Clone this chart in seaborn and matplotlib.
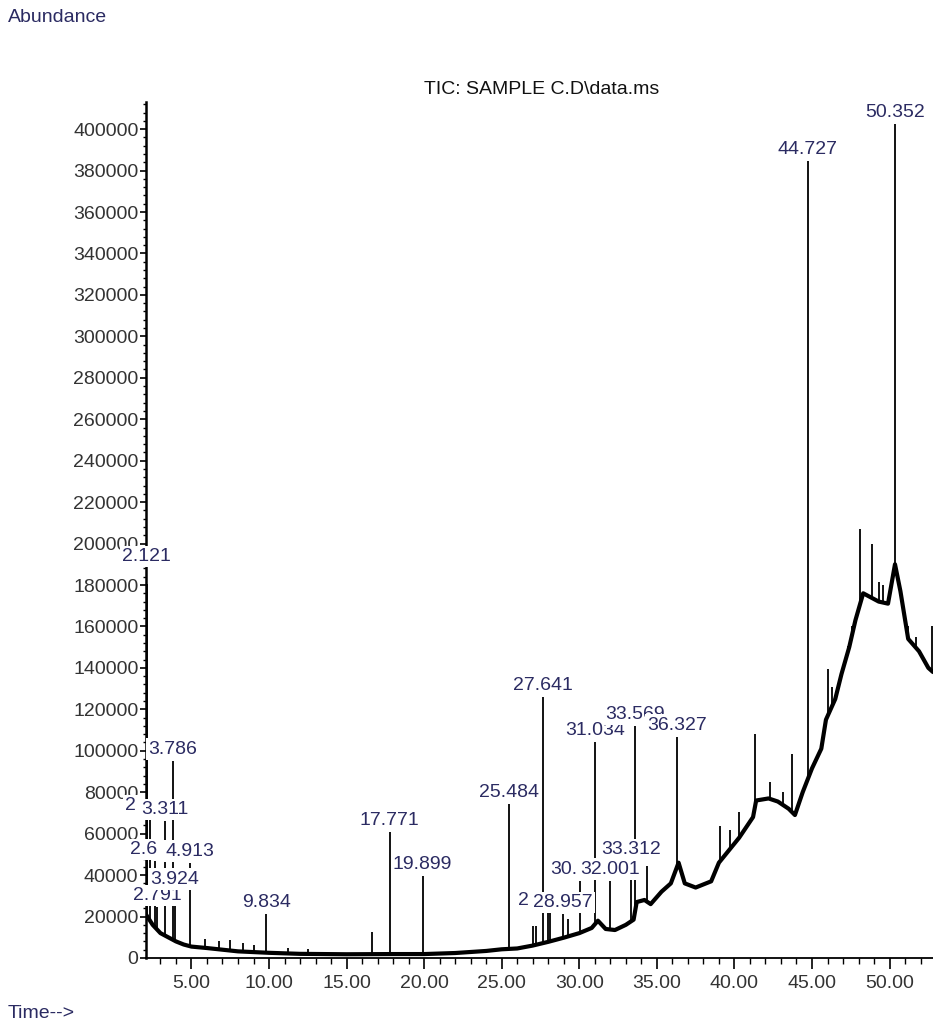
import numpy as np
import pandas as pd
import matplotlib
matplotlib.use("Agg")
import matplotlib.pyplot as plt
from matplotlib.ticker import MultipleLocator, FormatStrFormatter
import seaborn as sns

# Baseline of the total ion current: retention time (min) and abundance
base_time = [2.07, 2.5, 3.0, 3.5, 4.0, 4.5, 5.0, 6.0, 7.0, 8.0, 10.0, 12.0, 15.0,
             18.0, 20.0, 22.0, 23.0, 24.0, 25.0, 26.0, 27.0, 28.0, 29.0, 30.0,
             30.8, 31.2, 31.7, 32.3, 33.0, 33.5, 33.7, 34.2, 34.6, 35.3, 35.9,
             36.4, 36.8, 37.5, 38.5, 39.0, 40.3, 41.2, 41.4, 42.2, 42.8, 43.5,
             43.9, 44.4, 45.0, 45.6, 45.9, 46.5, 46.9, 47.4, 47.8, 48.3, 48.8,
             49.3, 49.9, 50.35, 50.7, 51.2, 51.9, 52.5, 52.8]
base_abund = [21000, 16000, 12000, 10000, 8000, 6500, 5500, 4800, 4000, 3200, 2500,
              2000, 1800, 1900, 1900, 2400, 2900, 3400, 4200, 4600, 6000, 7800,
              9800, 12000, 14500, 18000, 14000, 13500, 16000, 18500, 27000, 28000,
              26000, 32000, 36000, 46000, 36000, 34000, 37000, 46000, 58000, 68000,
              76000, 77000, 75500, 72000, 69000, 80000, 91500, 101000, 115000,
              125000, 137000, 150000, 163000, 176000, 174000, 172000, 171000,
              190000, 177000, 154000, 148000, 140000, 138000]

# Integrated peaks: retention time, apex abundance and the label printed above
peak_rt = [2.121, 2.30, 2.62, 2.791, 3.311, 3.786, 3.924, 4.913, 9.834, 17.771,
           19.899, 25.484, 27.641, 27.98, 28.957, 30.05, 31.034, 32.001, 33.312,
           33.569, 36.327, 44.727, 50.352]
peak_abund = [180400, 67900, 46700, 24500, 66000, 95000, 32300, 45800, 21100,
              60700, 39500, 74300, 125900, 22100, 21100, 37100, 104200, 37100,
              46700, 111900, 106600, 384500, 402400]
peak_label = ["2.121", "2", "2.6", "2.791", "3.311", "3.786", "3.924", "4.913",
              "9.834", "17.771", "19.899", "25.484", "27.641", "2", "28.957",
              "30.", "31.034", "32.001", "33.312", "33.569", "36.327", "44.727",
              "50.352"]

# Smaller unlabelled spikes riding on the baseline
spike_rt = [5.9, 6.8, 7.5, 8.3, 9.0, 11.2, 12.5, 16.66, 27.0, 27.2, 28.1, 29.3,
            34.35, 39.06, 39.7, 40.3, 41.31, 42.3, 43.1, 43.7, 46.0, 46.3, 47.0,
            47.3, 47.6, 48.07, 48.85, 49.35, 49.55, 51.2, 51.7, 52.75]
spike_abund = [9000, 8000, 8500, 7000, 6500, 5000, 4500, 12500, 15300, 15300,
               22100, 18700, 44400, 63700, 62000, 70400, 108000, 84800, 80000,
               98500, 139400, 131000, 141000, 150500, 160000, 206900, 199600,
               181300, 180000, 160000, 155000, 160000]

y_ticks = list(range(0, 400001, 20000))
x_ticks = [5, 10, 15, 20, 25, 30, 35, 40, 45, 50]

sns.set_theme(style="ticks")
plt.rcParams["font.family"] = ["Liberation Sans", "DejaVu Sans"]

NAVY = "#2b2b62"
TICK_GREY = "#333333"
FS = 14

fig = plt.figure(figsize=(9.33, 10.28), dpi=100)
ax = fig.add_axes([0.1565, 0.0681, 0.8435, 0.8325])

trace = pd.DataFrame({"time": base_time, "abundance": base_abund})
sns.lineplot(data=trace, x="time", y="abundance", ax=ax, color="black",
             linewidth=3.0, estimator=None, sort=True, zorder=3)

# vertical spikes rise from the baseline at their retention time
spike_foot = np.interp(spike_rt, base_time, base_abund)
ax.vlines(spike_rt, spike_foot, spike_abund, color="black", linewidth=1.3, zorder=3)
peak_foot = np.interp(peak_rt, base_time, base_abund)
ax.vlines(peak_rt, peak_foot, peak_abund, color="black", linewidth=1.3, zorder=3)

ax.set_xlim(2.07, 52.8)
ax.set_ylim(0, 413000)

ax.set_yticks(y_ticks)
ax.yaxis.set_major_formatter(FormatStrFormatter("%d"))
ax.yaxis.set_minor_locator(MultipleLocator(4000))
ax.set_xticks(x_ticks)
ax.xaxis.set_major_formatter(FormatStrFormatter("%.2f"))
ax.xaxis.set_minor_locator(MultipleLocator(1))

ax.tick_params(axis="y", which="major", length=4, width=1.2, pad=1.5,
               labelsize=FS, labelcolor=TICK_GREY, color="black")
ax.tick_params(axis="y", which="minor", length=2.5, width=1.0, color="black")
ax.tick_params(axis="x", which="major", length=8, width=1.2, pad=4,
               labelsize=FS, labelcolor=TICK_GREY, color="black")
ax.tick_params(axis="x", which="minor", length=4, width=1.0, color="black")

for side in ("top", "right"):
    ax.spines[side].set_visible(False)
ax.spines["left"].set_linewidth(1.8)
ax.spines["bottom"].set_linewidth(1.3)
ax.spines["left"].set_color("black")
ax.spines["bottom"].set_color("black")
ax.set_xlabel("")
ax.set_ylabel("")
ax.grid(False)

# peak labels with white boxes; later labels overprint earlier ones
renderer = fig.canvas.get_renderer()
box = dict(facecolor="white", edgecolor="none", pad=1.5)
raised = {"2.121": 28}
for rt, h, lab in zip(peak_rt, peak_abund, peak_label):
    full = f"{rt:.3f}"
    if lab == full:
        dx, ha = 0, "center"
    else:
        probe = ax.text(0, 0, full, fontsize=FS)
        dx = -probe.get_window_extent(renderer).width / 2
        probe.remove()
        ha = "left"
    ax.annotate(lab, xy=(rt, h), xytext=(dx, raised.get(lab, 12)),
                textcoords="offset pixels", ha=ha, va="center", fontsize=FS,
                color=NAVY, bbox=box, zorder=10, annotation_clip=False)

fig.text(542 / 933, 1 - 90 / 1028, "TIC: SAMPLE C.D\\data.ms", ha="center",
         va="center", fontsize=FS, color="#111111")
fig.text(8 / 933, 1 - 18 / 1028, "Abundance", ha="left", va="center",
         fontsize=FS, color=NAVY)
fig.text(8 / 933, 1 - 1013 / 1028, "Time-->", ha="left", va="center",
         fontsize=FS, color=NAVY)

fig.savefig("out.png", dpi=100, facecolor="white")
